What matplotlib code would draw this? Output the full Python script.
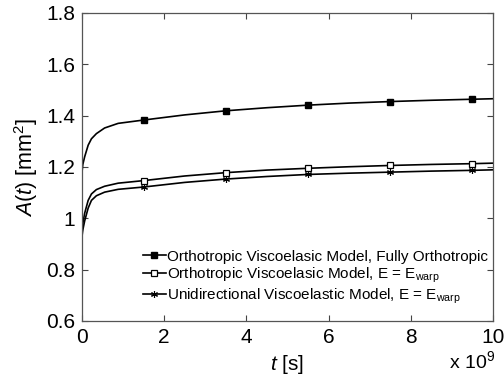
import matplotlib
matplotlib.use("Agg")
import matplotlib.pyplot as plt
from matplotlib.ticker import FuncFormatter, MultipleLocator

plt.rcParams['font.family'] = ['Liberation Sans', 'DejaVu Sans']
plt.rcParams['mathtext.fontset'] = 'custom'
plt.rcParams['mathtext.rm'] = 'Liberation Sans'
plt.rcParams['mathtext.it'] = 'Liberation Sans:italic'

# time in units of 1e9 s
t = [0, 0.02, 0.065, 0.15, 0.23, 0.35, 0.55, 0.88, 1.5, 2.5, 3.5, 4.5, 5.5, 6.5, 7.5, 8.5, 9.5, 10]
fully_orthotropic = [1.18, 1.21, 1.24, 1.285, 1.31, 1.33, 1.352, 1.37, 1.383, 1.403, 1.419, 1.431,
                     1.441, 1.449, 1.455, 1.460, 1.464, 1.466]
ortho_ewarp = [0.94, 0.98, 1.02, 1.07, 1.095, 1.112, 1.125, 1.137, 1.147, 1.165, 1.178, 1.188,
               1.195, 1.201, 1.206, 1.210, 1.213, 1.215]
unidir_ewarp = [0.93, 0.955, 0.99, 1.04, 1.07, 1.088, 1.102, 1.113, 1.122, 1.140, 1.153, 1.163,
                1.171, 1.176, 1.180, 1.184, 1.187, 1.189]
marker_idx = [8, 10, 12, 14, 16]

labels = ["Orthotropic Viscoelasic Model, Fully Orthotropic",
          r"Orthotropic Viscoelasic Model, E = E$_{\mathrm{warp}}$",
          r"Unidirectional Viscoelastic Model, E = E$_{\mathrm{warp}}$"]

fig = plt.figure(figsize=(5.04, 3.8), dpi=100)
ax = fig.add_axes([82/504, 59/380, 411/504, 308/380])

ax.plot(t, fully_orthotropic, color='black', lw=1.2, marker='s', ms=4.2,
        mfc='black', mec='black', markevery=marker_idx, label=labels[0])
ax.plot(t, ortho_ewarp, color='black', lw=1.2, marker='s', ms=4.2,
        mfc='white', mec='black', mew=0.9, markevery=marker_idx, label=labels[1])
ax.plot(t, unidir_ewarp, color='black', lw=1.2, marker=(6, 2, 0), ms=5,
        mec='black', mew=0.8, markevery=marker_idx, label=labels[2])

ax.set_xlim(0, 10)
ax.set_ylim(0.6, 1.8)
ax.xaxis.set_major_locator(MultipleLocator(2))
ax.yaxis.set_major_locator(MultipleLocator(0.2))
fmt = FuncFormatter(lambda v, p: "%g" % round(v, 6))
ax.xaxis.set_major_formatter(fmt)
ax.yaxis.set_major_formatter(fmt)
ax.tick_params(direction='in', top=True, right=True, length=4, width=0.8,
               labelsize=15, colors='#444444', labelcolor='black', pad=5)
for s in ax.spines.values():
    s.set_color('#555555')
    s.set_linewidth(0.9)

ax.set_ylabel(r"$\mathit{A}$($\mathit{t}$) [mm$^2$]", fontsize=15.5, labelpad=4)
ax.set_xlabel(r"$\mathit{t}$ [s]", fontsize=15, labelpad=4)
fig.text(472/504, 1 - 361/380, r"x 10$^9$", fontsize=14, ha='center', va='center')

leg = ax.legend(loc='upper left', bbox_to_anchor=(0.148, 0.232), frameon=False,
                fontsize=11, handlelength=1.5, handletextpad=0.1, borderpad=0,
                borderaxespad=0, labelspacing=0.12)

fig.savefig("out.png", dpi=100)
